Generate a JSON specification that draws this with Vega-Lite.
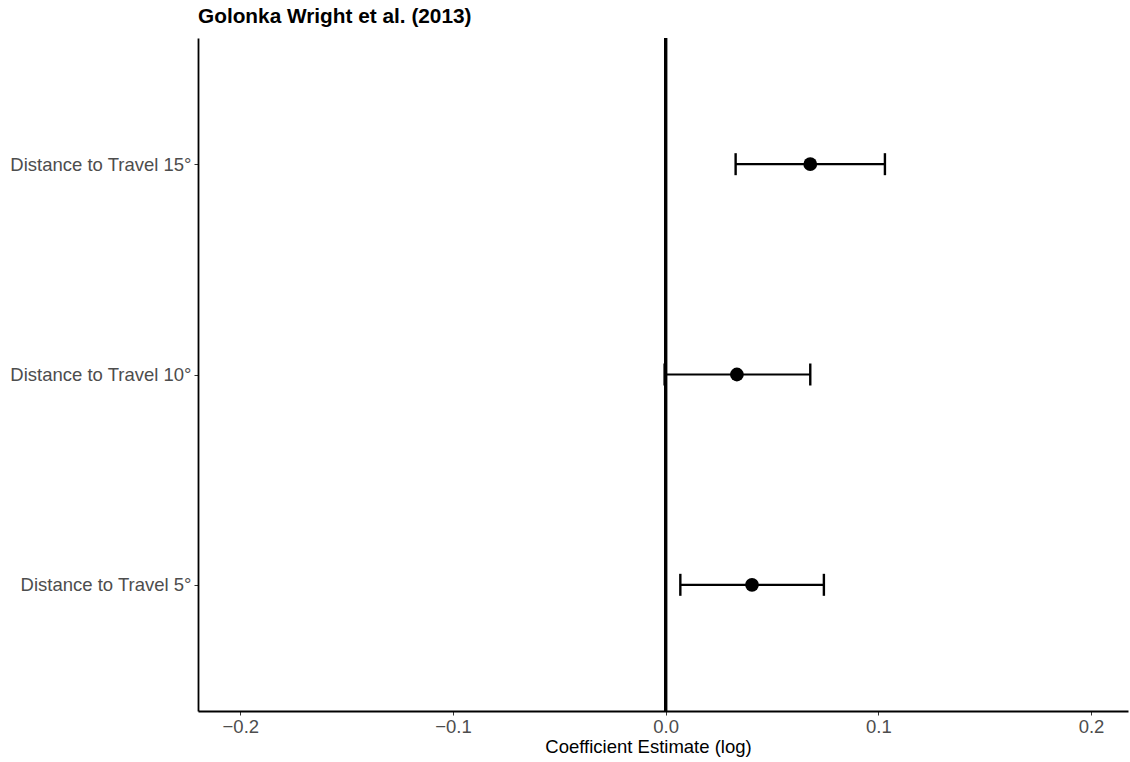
{
  "$schema": "https://vega.github.io/schema/vega-lite/v6.json",
  "autosize": {"type": "none"},
  "width": 930,
  "height": 673,
  "padding": {"left": 198, "top": 38, "right": 2, "bottom": 51},
  "background": "white",
  "config": {
    "font": "Liberation Sans",
    "view": {"stroke": null},
    "axis": {"grid": false}
  },
  "title": {
    "text": "Golonka Wright et al. (2013)",
    "anchor": "start",
    "frame": "group",
    "fontSize": 20.8,
    "fontWeight": "bold",
    "color": "black",
    "offset": 9
  },
  "data": {
    "values": [
      {"term": "Distance to Travel 15°", "estimate": 0.068, "lo": 0.0329, "hi": 0.1031},
      {"term": "Distance to Travel 10°", "estimate": 0.0335, "lo": -0.0005, "hi": 0.068},
      {"term": "Distance to Travel 5°", "estimate": 0.0406, "lo": 0.0069, "hi": 0.0744}
    ]
  },
  "encoding": {
    "y": {
      "field": "term",
      "type": "nominal",
      "sort": ["Distance to Travel 15°", "Distance to Travel 10°", "Distance to Travel 5°"],
      "scale": {"type": "point", "padding": 0.6},
      "axis": {
        "title": null,
        "domainColor": "black",
        "domainWidth": 1.8,
        "tickColor": "#333333",
        "tickSize": 4,
        "labelFontSize": 18.5,
        "labelColor": "#4d4d4d",
        "labelPadding": 3,
        "labelLimit": 0
      }
    }
  },
  "layer": [
    {
      "mark": {"type": "rule", "color": "black", "strokeWidth": 3},
      "encoding": {
        "x": {"datum": 0, "type": "quantitative"},
        "y": null
      }
    },
    {
      "mark": {"type": "rule", "color": "black", "strokeWidth": 2.2},
      "encoding": {
        "x": {
          "field": "lo",
          "type": "quantitative",
          "scale": {"domain": [-0.2199, 0.2174], "nice": false, "zero": false},
          "axis": {
            "title": "Coefficient Estimate (log)",
            "titleFontSize": 18.5,
            "titleFontWeight": "normal",
            "titleColor": "black",
            "titlePadding": 2,
            "titleX": 450,
            "values": [-0.2, -0.1, 0, 0.1, 0.2],
            "format": ".1f",
            "domainColor": "black",
            "domainWidth": 1.8,
            "tickColor": "#333333",
            "tickSize": 4,
            "labelFontSize": 18.5,
            "labelColor": "#4d4d4d",
            "labelPadding": 2
          }
        },
        "x2": {"field": "hi"}
      }
    },
    {
      "mark": {"type": "tick", "color": "black", "opacity": 1, "thickness": 2.4, "size": 22, "orient": "vertical"},
      "encoding": {"x": {"field": "lo", "type": "quantitative"}}
    },
    {
      "mark": {"type": "tick", "color": "black", "opacity": 1, "thickness": 2.4, "size": 22, "orient": "vertical"},
      "encoding": {"x": {"field": "hi", "type": "quantitative"}}
    },
    {
      "mark": {"type": "circle", "color": "black", "opacity": 1, "size": 190},
      "encoding": {"x": {"field": "estimate", "type": "quantitative"}}
    }
  ]
}
